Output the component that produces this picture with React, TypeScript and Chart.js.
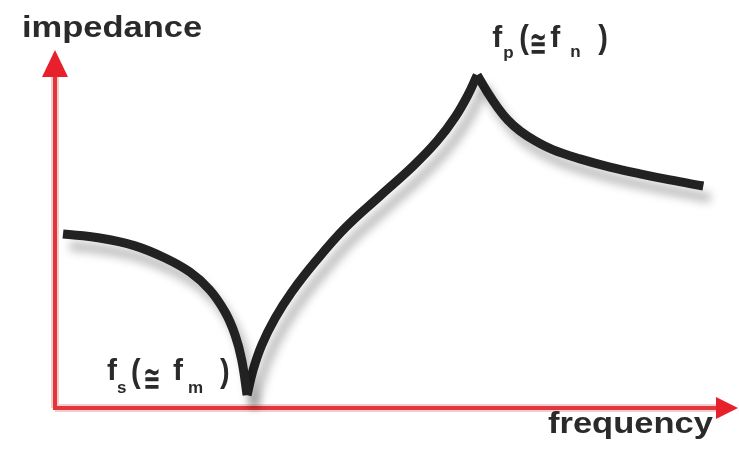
import React, { useEffect, useRef } from "react";
import { Chart, registerables } from "chart.js";

Chart.register(...registerables);

// Axis titles and resonance labels
const yAxisTitle = "impedance";
const xAxisTitle = "frequency";
const seriesResonanceParts = ["f", "s", "f", "m"]; // f_s (≅ f_m)
const parallelResonanceParts = ["f", "p", "f", "n"]; // f_p (≅ f_n)
const approxSign = "≅";

// Impedance curve (frequency 0–100, impedance 0–100)
const belowSeriesFreq = [1.2, 6.7, 12.0, 16.5, 20.2, 23.2, 25.5, 27.0, 28.0, 28.8];
const belowSeriesImp = [48.6, 47.5, 45.3, 41.9, 38.0, 33.0, 26.8, 20.4, 13.4, 3.6];

const betweenFreq = [28.8, 29.7, 31.0, 33.0, 35.5, 39.0, 43.5, 48.7, 53.7, 57.3, 60.0, 61.9, 63.3];
const betweenImp = [3.6, 10.6, 17.6, 25.1, 32.4, 40.8, 50.3, 59.2, 67.6, 74.6, 81.3, 87.4, 93.0];

const aboveParallelFreq = [63.3, 64.8, 66.3, 67.9, 69.7, 72.0, 74.7, 78.7, 83.2, 87.7, 92.2, 97.2];
const aboveParallelImp = [93.0, 88.3, 84.1, 80.4, 77.4, 74.6, 72.1, 69.6, 67.3, 65.4, 63.7, 62.0];

const toPoints = (xs: number[], ys: number[]) => xs.map((x, i) => ({ x, y: ys[i] }));

const TEXT_COLOR = "#2a2a2a";
const FONT = "'Liberation Sans', Arial, 'DejaVu Sans', sans-serif";
const SYM_FONT = "'DejaVu Sans', 'Liberation Sans', sans-serif";

function drawResonanceLabel(
  ctx: CanvasRenderingContext2D,
  ax: number,
  ay: number,
  parts: string[],
  layout: { dx: number[]; dy: number[] }
) {
  const [m1, s1, m2, s2] = parts;
  const items: { t: string; font: string; sx?: number; sy?: number }[] = [
    { t: m1, font: `bold 30px ${FONT}` },
    { t: s1, font: `bold 17px ${FONT}` },
    { t: "(", font: `bold 34px ${FONT}`, sx: 0.85 },
    { t: approxSign, font: `bold 28px ${SYM_FONT}`, sx: 0.75, sy: 1.2 },
    { t: m2, font: `bold 30px ${FONT}` },
    { t: s2, font: `bold 17px ${FONT}` },
    { t: ")", font: `bold 34px ${FONT}`, sx: 0.85 },
  ];
  ctx.save();
  ctx.fillStyle = TEXT_COLOR;
  ctx.textBaseline = "alphabetic";
  ctx.textAlign = "left";
  items.forEach((it, i) => {
    ctx.save();
    ctx.font = it.font;
    ctx.translate(ax + layout.dx[i], ay + layout.dy[i]);
    ctx.scale(it.sx ?? 1, it.sy ?? 1);
    ctx.fillText(it.t, 0, 0);
    ctx.restore();
  });
  ctx.restore();
}

const decorPlugin = {
  id: "decor",
  beforeDatasetsDraw(chart: any) {
    const { ctx, chartArea } = chart;
    const { left, right, top, bottom } = chartArea;
    ctx.save();
    // halo
    ctx.lineCap = "butt";
    ctx.strokeStyle = "rgba(236,110,110,0.35)";
    ctx.lineWidth = 8;
    ctx.beginPath();
    ctx.moveTo(left, bottom);
    ctx.lineTo(left, top + 20);
    ctx.moveTo(left, bottom);
    ctx.lineTo(right + 2, bottom);
    ctx.stroke();
    // core
    ctx.strokeStyle = "#e2363d";
    ctx.lineWidth = 4;
    ctx.beginPath();
    ctx.moveTo(left, bottom + 2);
    ctx.lineTo(left, top + 20);
    ctx.moveTo(left - 2, bottom);
    ctx.lineTo(right + 2, bottom);
    ctx.stroke();
    // arrow heads
    ctx.fillStyle = "#e8202c";
    ctx.beginPath();
    ctx.moveTo(left, top);
    ctx.lineTo(left - 13, top + 27);
    ctx.lineTo(left + 13, top + 27);
    ctx.closePath();
    ctx.fill();
    ctx.beginPath();
    ctx.moveTo(right + 16, bottom);
    ctx.lineTo(right - 6, bottom - 11);
    ctx.lineTo(right - 6, bottom + 11);
    ctx.closePath();
    ctx.fill();
    ctx.restore();

    ctx.save();
    ctx.shadowColor = "rgba(0,0,0,0.28)";
    ctx.shadowBlur = 10;
    ctx.shadowOffsetX = 7;
    ctx.shadowOffsetY = 12;
  },
  afterDatasetsDraw(chart: any) {
    chart.ctx.restore();
  },
  afterDraw(chart: any) {
    const { ctx, scales } = chart;
    const xs = scales.x;
    const ys = scales.y;

    // axis titles (slightly wide bold face)
    ctx.save();
    ctx.fillStyle = TEXT_COLOR;
    ctx.font = `bold 30px ${FONT}`;
    ctx.textBaseline = "alphabetic";
    ctx.save();
    ctx.translate(22, 37);
    ctx.scale(1.15, 1);
    ctx.fillText(yAxisTitle, 0, 0);
    ctx.restore();
    ctx.save();
    ctx.translate(548, 433);
    ctx.scale(1.15, 1);
    ctx.fillText(xAxisTitle, 0, 0);
    ctx.restore();
    ctx.restore();

    // resonance labels, anchored on the curve's minimum and maximum
    const minI = betweenImp.indexOf(Math.min(...betweenImp));
    const maxI = betweenImp.indexOf(Math.max(...betweenImp));
    const minX = xs.getPixelForValue(betweenFreq[minI]);
    const minY = ys.getPixelForValue(betweenImp[minI]);
    const maxX = xs.getPixelForValue(betweenFreq[maxI]);
    const maxY = ys.getPixelForValue(betweenImp[maxI]);

    drawResonanceLabel(ctx, minX, minY, seriesResonanceParts, {
      dx: [-140, -130, -116, -104, -74, -59, -27],
      dy: [-15, -2, -13, -5, -15, -2, -13],
    });
    drawResonanceLabel(ctx, maxX, maxY, parallelResonanceParts, {
      dx: [15, 26, 42, 52, 73, 93, 121],
      dy: [-28, -17, -27, -20, -28, -18, -27],
    });
  },
};

export default function App() {
  const ref = useRef<HTMLCanvasElement | null>(null);

  useEffect(() => {
    if (!ref.current) return;
    const lineStyle = {
      borderColor: "#222222",
      borderWidth: 9,
      pointRadius: 0,
      fill: false,
      tension: 0.4,
      borderCapStyle: "butt" as const,
      borderJoinStyle: "round" as const,
      clip: false as any,
    };
    const chart = new Chart(ref.current, {
      type: "line",
      data: {
        datasets: [
          { label: "below fs", data: toPoints(belowSeriesFreq, belowSeriesImp), ...lineStyle },
          { label: "fs to fp", data: toPoints(betweenFreq, betweenImp), ...lineStyle },
          { label: "above fp", data: toPoints(aboveParallelFreq, aboveParallelImp), ...lineStyle },
        ],
      },
      options: {
        animation: false,
        responsive: false,
        devicePixelRatio: 1,
        layout: { padding: { left: 55, right: 17, top: 50, bottom: 45 } },
        scales: {
          x: { type: "linear", min: 0, max: 100, display: false },
          y: { type: "linear", min: 0, max: 100, display: false },
        },
        plugins: { legend: { display: false }, tooltip: { enabled: false } },
      },
      plugins: [decorPlugin],
    });
    return () => chart.destroy();
  }, []);

  return (
    <div style={{ position: "absolute", left: 0, top: 0, width: 739, height: 453, background: "#fff" }}>
      <canvas ref={ref} width={739} height={453} style={{ width: 739, height: 453, display: "block" }} />
    </div>
  );
}
